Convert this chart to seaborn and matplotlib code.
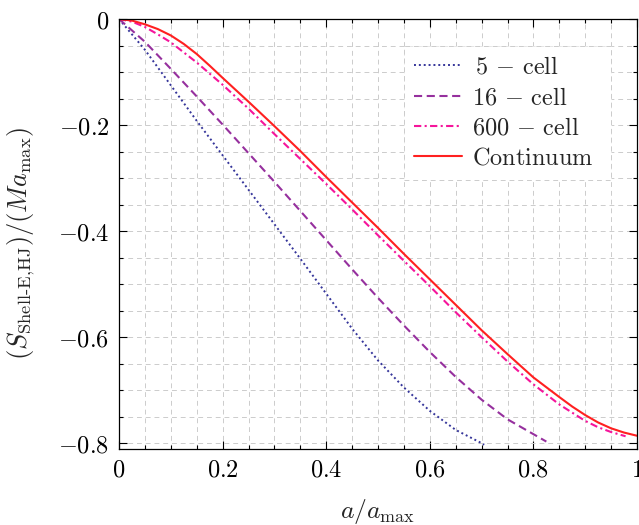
import matplotlib
matplotlib.use('Agg')
import matplotlib.pyplot as plt
import matplotlib.ticker as mtick
import seaborn as sns

# values (x = a/a_max)
a_5cell = [0, 0.05, 0.1, 0.15, 0.2, 0.25, 0.3, 0.35, 0.4, 0.45, 0.5, 0.55, 0.6, 0.65, 0.7, 0.705]
s_5cell = [0, -0.058, -0.125, -0.192, -0.257, -0.322, -0.387, -0.452, -0.518, -0.584, -0.644, -0.695, -0.739, -0.775, -0.800, -0.803]

a_16cell = [0, 0.05, 0.1, 0.15, 0.2, 0.25, 0.3, 0.35, 0.4, 0.45, 0.5, 0.55, 0.6, 0.65, 0.7, 0.75, 0.8, 0.825]
s_16cell = [0, -0.043, -0.094, -0.146, -0.199, -0.253, -0.307, -0.362, -0.417, -0.472, -0.526, -0.578, -0.628, -0.675, -0.718, -0.755, -0.783, -0.797]

a_600cell = [0, 0.025, 0.05, 0.075, 0.1, 0.15, 0.2, 0.25, 0.3, 0.35, 0.4, 0.45, 0.5, 0.55, 0.6, 0.65, 0.7, 0.75, 0.8, 0.85, 0.9, 0.925, 0.95, 0.978]
s_600cell = [0, -0.005, -0.015, -0.029, -0.044, -0.082, -0.124, -0.169, -0.217, -0.264, -0.311, -0.359, -0.408, -0.456, -0.504, -0.553, -0.600, -0.646, -0.689, -0.727, -0.758, -0.770, -0.779, -0.787]

a_cont = [0, 0.025, 0.05, 0.075, 0.1, 0.125, 0.15, 0.175, 0.2, 0.25, 0.3, 0.35, 0.4, 0.45, 0.5, 0.55, 0.6, 0.65, 0.7, 0.75, 0.8, 0.85, 0.875, 0.9, 0.925, 0.95, 0.975, 1.0]
s_cont = [0, -0.003, -0.010, -0.019, -0.031, -0.047, -0.066, -0.088, -0.111, -0.156, -0.202, -0.249, -0.298, -0.346, -0.394, -0.443, -0.491, -0.539, -0.587, -0.632, -0.676, -0.713, -0.731, -0.747, -0.761, -0.772, -0.780, -0.786]

labels = [r'$\,5\,-\,\mathrm{cell}$', r'$16\,-\,\mathrm{cell}$', r'$600\,-\,\mathrm{cell}$', r'$\mathrm{Continuum}$']
colors = ['#35359a', '#96309e', '#f5159b', '#ff2020']

sns.set_style('ticks')
plt.rcParams['mathtext.fontset'] = 'cm'
plt.rcParams['font.family'] = ['DejaVu Serif']
fs = 17.5

fig = plt.figure(figsize=(6.39, 5.25), dpi=100)
ax = fig.add_axes([119 / 639, 1 - 449 / 525, 518 / 639, 430 / 525])

styles = [((0, (1, 1.5)), 1.4), ((0, (3.9, 2.2)), 1.5), ((0, (3.5, 1.6, 1, 1.6)), 1.5), ('-', 1.5)]
data = [(a_5cell, s_5cell), (a_16cell, s_16cell), (a_600cell, s_600cell), (a_cont, s_cont)]
for (xs, ys), lab, col, (ls, lw) in zip(data, labels, colors, styles):
    sns.lineplot(x=xs, y=ys, ax=ax, color=col, lw=lw, linestyle=ls, label=lab,
                 sort=False, estimator=None)

ax.set_xlim(0, 1)
ax.set_ylim(-0.811, 0)
ax.xaxis.set_major_locator(mtick.MultipleLocator(0.2))
ax.xaxis.set_minor_locator(mtick.MultipleLocator(0.05))
ax.yaxis.set_major_locator(mtick.MultipleLocator(0.2))
ax.yaxis.set_minor_locator(mtick.MultipleLocator(0.05))


def fmt(v, pos):
    if abs(v) < 1e-9:
        return '$0$'
    return f'${v:g}$'


ax.xaxis.set_major_formatter(mtick.FuncFormatter(fmt))
ax.yaxis.set_major_formatter(mtick.FuncFormatter(fmt))
ax.tick_params(which='both', direction='in', top=True, right=True, width=0.8, colors='black')
ax.tick_params(which='major', length=5.5, labelsize=fs, pad=7)
ax.tick_params(which='minor', length=3)

ax.grid(True, which='both', color='#cccccc', linestyle=(0, (5, 4)), lw=0.7)
ax.set_axisbelow(True)
for sp in ax.spines.values():
    sp.set_color('black')
    sp.set_linewidth(0.9)

leg = ax.legend(loc='upper left', bbox_to_anchor=(0.55, -0.3, 0.4, 0.25),
                bbox_transform=ax.transData, mode='expand', borderaxespad=0,
                fontsize=fs, handlelength=1.95, handletextpad=0.45, labelspacing=0.3,
                borderpad=0.42, frameon=True, fancybox=False, framealpha=1,
                edgecolor='#cccccc')
leg.get_frame().set_linestyle((0, (5, 4)))
leg.get_frame().set_linewidth(0.7)

ax.set_xlabel(r'$a/a_{\max}$', fontsize=18.5)
ax.xaxis.set_label_coords(0.5, -0.112)
ax.set_ylabel(r'$(S_{\text{Shell-E,HJ}})/(M a_{\max})$', fontsize=19)
ax.yaxis.set_label_coords(-0.158, 0.479)

fig.savefig('out.png', dpi=100)
